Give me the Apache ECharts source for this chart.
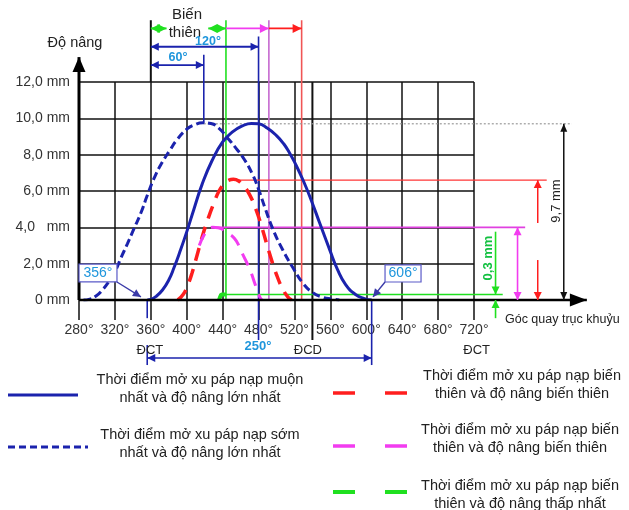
<!DOCTYPE html>
<html><head><meta charset="utf-8">
<script src="https://cdn.jsdelivr.net/npm/echarts@6/dist/echarts.min.js"></script>
<style>html,body{margin:0;padding:0;background:#fff}#c{width:629px;height:510px}</style>
</head><body><div id="c"></div>
<script>
// ---------- data (crank angle in degrees, lift in mm) ----------
const yTickLabels = {0:'0 mm',2:'2,0 mm',4:'4,0   mm',6:'6,0 mm',8:'8,0 mm',10:'10,0 mm',12:'12,0 mm'};
const lateMaxLift = [[356,0],[360,0.03],[366,0.2],[373,0.55],[380,1.1],[386,1.8],[392,2.6],[400,3.75],[408,5.0],[417,6.35],[428,7.65],[440,8.7],[451,9.25],[462,9.58],[472,9.72],[480,9.7],[490,9.45],[500,9.05],[508,8.6],[515,8.05],[520,7.6],[530,6.55],[539,5.45],[548,4.25],[559,2.8],[568,1.67],[577,0.85],[588,0.3],[598,0.08],[606,0]];
const earlyMaxLift = [[285,0],[292,0.05],[299,0.22],[306,0.55],[313,1.0],[320,1.55],[327,2.35],[334,3.1],[341,3.9],[349,4.8],[356,5.75],[365,6.85],[373,7.6],[382,8.3],[388,8.75],[400,9.4],[408,9.63],[418,9.76],[427,9.72],[436,9.45],[445,8.95],[455,8.35],[464,7.75],[473,6.95],[480,6.1],[487,5.1],[496,3.9],[507,2.75],[518,1.8],[529,0.95],[540,0.42],[551,0.16],[562,0.05],[570,0]];
const variableLiftRed = [[390,0],[396,0.3],[401,0.8],[406,1.5],[412,2.55],[418,3.6],[424,4.5],[430,5.3],[436,6.0],[442,6.4],[447,6.6],[452,6.65],[458,6.55],[464,6.25],[470,5.8],[477,5.0],[484,3.95],[492,2.6],[500,1.4],[507,0.6],[513,0.15],[517,0]];
const variableLiftMagenta = [[414,3.0],[419,3.55],[424,3.88],[429,4.0],[435,3.98],[441,3.85],[447,3.65],[453,3.4],[458,3.0],[462,2.55],[467,2.05],[471,1.6],[477,0.75],[482,0.1],[484,0]];
const minLiftGreen = [[436,0],[439,0.3],[444,0.3]];
// key angles / lifts
const tdc = 360, bdc = 540, tdc2 = 720;
const openLate = 356, closeLate = 606, peakEarly = 419, peakLate = 480;
const openGreen = 443.7, openMagenta = 491.5, openRed = 528;
const liftMax = 9.7, liftRed = 6.6, liftMagenta = 4.0, liftMin = 0.3;
const legendLabels = [
  'Thời điểm mở xu páp nạp muộn\nnhất và độ nâng lớn nhất',
  'Thời điểm mở xu páp nạp sớm\nnhất và độ nâng lớn nhất',
  'Thời điểm mở xu páp nạp biến\nthiên và độ nâng biến thiên',
  'Thời điểm mở xu páp nạp biến\nthiên và độ nâng biến thiên',
  'Thời điểm mở xu páp nạp biến\nthiên và độ nâng thấp nhất'
];

// ---------- styles ----------
const COL = {blue:'#1b23ad', cyan:'#1f96dc', red:'#ff1e1e', mag:'#f23cf0', green:'#20e020',
  magThin:'#c66ad0', redThin:'#f05555', greenText:'#12c040', ink:'#222'};
const FONT = 'Arial, "Liberation Sans", sans-serif';

function seg(a,b,color,w,dash){return {type:'line',shape:{x1:a[0],y1:a[1],x2:b[0],y2:b[1]},style:{stroke:color,lineWidth:w,lineDash:dash||null}};}
function head(tip,from,color,len,hw){len=len||8;hw=hw||4;const dx=tip[0]-from[0],dy=tip[1]-from[1];const d=Math.hypot(dx,dy)||1;const ux=dx/d,uy=dy/d;const bx=tip[0]-ux*len,by=tip[1]-uy*len;
  return {type:'polygon',shape:{points:[[tip[0],tip[1]],[bx-uy*hw,by+ux*hw],[bx+uy*hw,by-ux*hw]]},style:{fill:color}};}
function txt(p,s,o){return {type:'text',x:p[0],y:p[1],rotation:(o&&o.rot)||0,style:{text:s,fill:(o&&o.fill)||COL.ink,font:(o&&o.font)||('13px '+FONT),align:(o&&o.align)||'center',verticalAlign:'middle',backgroundColor:(o&&o.bg)||null}};}

function renderUnder(params, api){
  const p=(x,y)=>api.coord([x,y]); const k=[];
  const L=(x1,y1,x2,y2,c,w,d)=>k.push(seg(p(x1,y1),p(x2,y2),c,w,d));
  L(bdc,-2.2,bdc,12,'#111',2);
  L(tdc,12,tdc,15.4,'#111',2);
  L(openGreen,0,openGreen,15.4,COL.green,1.6);
  L(openMagenta,0,openMagenta,15.4,COL.magThin,1.6);
  L(openRed,0,openRed,15.4,COL.redThin,1.6);
  L(peakLate,-2.2,peakLate,14.5,COL.blue,1.6);
  L(peakEarly,liftMax,peakEarly,13.5,COL.blue,1.6);
  L(peakEarly,liftMax,829,liftMax,'#9a9a9a',1.2,[2,2]);
  L(455,liftRed,801,liftRed,'#ff3535',1.3);
  L(429,liftMagenta,777,liftMagenta,'#e040e0',1.6);
  L(436,liftMin,752,liftMin,COL.green,1.6);
  L(openLate,0,openLate,-1.0,COL.blue,1.6);
  L(openLate,-2.48,openLate,-3.58,COL.blue,1.6);
  L(closeLate,0,closeLate,-3.58,COL.blue,1.6);
  return {type:'group',children:k};
}

function renderOver(params, api){
  const p=(x,y)=>api.coord([x,y]); const k=[];
  const arrow=(x1,y1,x2,y2,c,w,heads,len,hw)=>{const a=p(x1,y1),b=p(x2,y2);k.push(seg(a,b,c,w));
    if(heads==='end'||heads==='both')k.push(head(b,a,c,len,hw));
    if(heads==='start'||heads==='both')k.push(head(a,b,c,len,hw));};
  // axes
  arrow(280,0,845.7,0,'#000',2.6,'end',17,6.5);
  arrow(280,0,280,13.37,'#000',3,'end',15,6.5);
  // top span arrows
  arrow(tdc,14.95,377.5,14.95,COL.green,2,'both',9,4.5);
  arrow(424,14.95,openGreen,14.95,COL.green,2,'both',9,4.5);
  arrow(openGreen,14.95,openMagenta,14.95,COL.mag,1.6,'end',9,4.5);
  arrow(openMagenta,14.95,openRed,14.95,COL.red,1.6,'end',9,4.5);
  arrow(tdc,13.94,peakLate,13.94,COL.blue,1.8,'both',8,4);
  arrow(tdc,12.93,peakEarly,12.93,COL.blue,1.8,'both',8,4);
  k.push(txt(p(400.3,15.72),'Biến',{font:'15px '+FONT}));
  k.push(txt(p(398,14.7),'thiên',{font:'15px '+FONT}));
  k.push(txt(p(423.7,14.2),'120°',{font:'bold 12.5px '+FONT,fill:COL.cyan}));
  k.push(txt(p(390.3,13.36),'60°',{font:'bold 12.5px '+FONT,fill:COL.cyan}));
  // right lift arrows
  arrow(820,0,820,liftMax,'#111',1.5,'both',8,3.5);
  arrow(791,4.24,791,liftRed,COL.red,1.5,'end',8,4);
  arrow(791,2.2,791,0,COL.red,1.5,'end',8,4);
  arrow(768.5,0,768.5,liftMagenta,COL.mag,1.6,'both',8,4);
  arrow(744,3.76,744,liftMin,COL.green,1.6,'end',8,4);
  arrow(744,-1.0,744,0,COL.green,1.6,'end',8,4);
  k.push(txt(p(811.4,5.45),'9,7 mm',{font:'13px '+FONT,rot:Math.PI/2}));
  k.push(txt(p(735.6,2.31),'0,3 mm',{font:'bold 13px '+FONT,fill:COL.greenText,rot:Math.PI/2}));
  k.push(txt(p(754.5,-1.1),'Góc quay trục khuỷu',{font:'12.5px '+FONT,align:'left'}));
  // opening / closing boxes
  const box=(x1,y1,x2,y2,label,ax1,ay1,ax2,ay2)=>{const a=p(x1,y1),b=p(x2,y2);
    k.push({type:'rect',shape:{x:Math.min(a[0],b[0]),y:Math.min(a[1],b[1]),width:Math.abs(b[0]-a[0]),height:Math.abs(b[1]-a[1])},style:{fill:'#fff',stroke:'#5a5ac8',lineWidth:1.2}});
    k.push(txt([(a[0]+b[0])/2,(a[1]+b[1])/2],label,{font:'14px '+FONT,fill:COL.cyan}));
    arrow(ax1,ay1,ax2,ay2,'#3a3aa8',1.4,'end',8,4);};
  box(280,1.98,322.3,1.0,openLate+'°',322.3,0.99,349,0.17);
  box(620.9,1.93,661,0.99,closeLate+'°',620.9,0.99,607.5,0.17);
  // bottom
  arrow(openLate,-3.19,closeLate,-3.19,COL.blue,1.6,'both',8,4);
  k.push(txt(p(359,-2.75),'ĐCT',{font:'13px '+FONT}));
  k.push(txt(p(535,-2.75),'ĐCD',{font:'13px '+FONT}));
  k.push(txt(p(723,-2.75),'ĐCT',{font:'13px '+FONT}));
  k.push(txt(p(479.4,-2.55),(closeLate-openLate)+'°',{font:'bold 13px '+FONT,fill:COL.cyan}));
  return {type:'group',children:k};
}

const chart = echarts.init(document.getElementById('c'), null, {renderer:'canvas'});
const legendGraphics = [];
function legendLine(x1,x2,y,color,w,dash){legendGraphics.push({type:'line',shape:{x1:x1,y1:y,x2:x2,y2:y},style:{stroke:color,lineWidth:w,lineDash:dash||null}});}
function legendText(x,y,s){legendGraphics.push({type:'text',x:x,y:y,style:{text:s,font:'14.5px '+FONT,fill:COL.ink,align:'center',verticalAlign:'middle',lineHeight:18}});}
legendLine(8,78,395,COL.blue,3); legendText(200,389,legendLabels[0]);
legendLine(8,88,447,COL.blue,3,[7,4]); legendText(200,444,legendLabels[1]);
legendLine(333,410,393,COL.red,3.5,[22,30]); legendText(522,385,legendLabels[2]);
legendLine(333,410,446,COL.mag,3.5,[22,30]); legendText(520,439,legendLabels[3]);
legendLine(333,410,492,COL.green,4,[22,30]); legendText(520,495,legendLabels[4]);

const option = {
  animation:false,
  backgroundColor:'#fff',
  grid:{left:79,right:155,top:82,bottom:210,containLabel:false},
  xAxis:{type:'value',min:280,max:tdc2,interval:40,
    axisLine:{show:false},
    axisTick:{show:true,length:20,lineStyle:{color:'#111',width:1.5}},
    axisLabel:{margin:23,fontSize:14,fontFamily:FONT,color:'#333',formatter:v=>v+'°'},
    splitLine:{show:true,lineStyle:{color:'#111',width:1.5}}},
  yAxis:{type:'value',min:0,max:12,interval:2,
    name:'Độ nâng',nameLocation:'end',nameGap:32,nameTextStyle:{fontSize:14.5,fontFamily:FONT,color:'#222',align:'center',padding:[0,8,0,0]},
    axisLine:{show:false},axisTick:{show:false},
    axisLabel:{margin:9,fontSize:14,fontFamily:FONT,color:'#333',formatter:v=>yTickLabels[v]},
    splitLine:{show:true,lineStyle:{color:'#111',width:1.5}}},
  graphic:legendGraphics,
  series:[
    {type:'custom',z:2,silent:true,clip:false,renderItem:renderUnder,data:[[280,0]]},
    {type:'line',z:4,data:earlyMaxLift,smooth:0.5,symbol:'none',lineStyle:{color:COL.blue,width:3,type:[8,4]}},
    {type:'line',z:4,data:lateMaxLift,smooth:0.5,symbol:'none',lineStyle:{color:COL.blue,width:3}},
    {type:'line',z:4,data:variableLiftRed,smooth:0.5,symbol:'none',lineStyle:{color:COL.red,width:3.5,type:[13,9]}},
    {type:'line',z:4,data:variableLiftMagenta,smooth:0.5,symbol:'none',lineStyle:{color:COL.mag,width:3,type:[13,9]}},
    {type:'line',z:4,data:minLiftGreen,smooth:0.3,symbol:'none',lineStyle:{color:COL.green,width:4}},
    {type:'custom',z:6,silent:true,clip:false,renderItem:renderOver,data:[[280,0]]}
  ]
};
chart.setOption(option);
</script></body></html>
